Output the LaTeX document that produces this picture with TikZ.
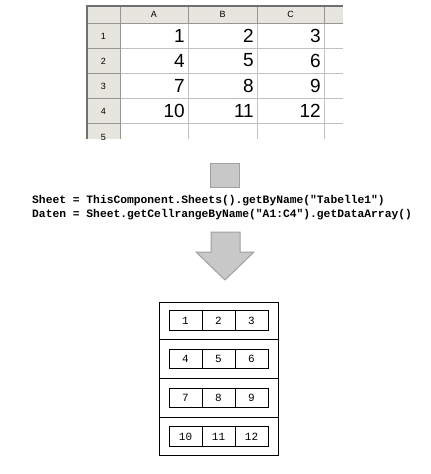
\documentclass[tikz,border=0pt]{standalone}
\usepackage{fontspec}
\setmainfont{Liberation Sans}
\newfontfamily\codefont{Liberation Mono}
\usetikzlibrary{positioning}
\definecolor{SheetHead}{RGB}{230,230,222}
\definecolor{SheetGrid}{RGB}{192,192,192}
\definecolor{SheetLine}{RGB}{150,150,150}
\definecolor{SheetFrame}{RGB}{112,112,112}
\definecolor{ArrowFill}{RGB}{200,200,200}
\definecolor{ArrowLine}{RGB}{160,160,160}

\begin{document}
\begin{tikzpicture}[
    x=1pt,
    y=-1pt,
    value/.style={
        anchor=east,
        inner sep=0,
        font=\fontsize{19}{19}\selectfont
    },
    head/.style={
        inner sep=0,
        font=\fontsize{9}{9}\selectfont
    },
    code/.style={
        anchor=west,
        align=left,
        inner sep=0,
        font=\codefont\bfseries\fontsize{11.3}{13.5}\selectfont
    },
    cell/.style={
        draw,
        line width=1pt,
        outer sep=0,
        minimum width=33pt,
        minimum height=19.5pt,
        inner sep=0,
        font=\codefont\fontsize{11}{11}\selectfont
    },
    block/.style={
        fill=ArrowFill,
        draw=ArrowLine,
        line width=1pt
    }
]
\useasboundingbox (0,0) rectangle (431,474);

% spreadsheet
\begin{scope}
\clip (85,4) rectangle (343,139);
\fill[SheetHead] (87,6) rectangle (343,23);
\fill[SheetHead] (87,23) rectangle (120,139);
\draw[SheetGrid]
(120,48) -- (343,48) (120,73) -- (343,73)
(120,98) -- (343,98) (120,123) -- (343,123)
(188,23) -- (188,139) (257,23) -- (257,139) (324,23) -- (324,139);
\draw[SheetLine]
(87,48) -- (120,48) (87,73) -- (120,73)
(87,98) -- (120,98) (87,123) -- (120,123)
(188,6) -- (188,23) (257,6) -- (257,23) (324,6) -- (324,23)
(87,23) -- (343,23) (120,6) -- (120,139);
\draw[SheetFrame,line width=2pt]
(87,139) -- (87,6) -- (343,6);

\node[head] (colA) at (154,14.5) {A};
\node[head] (colB) at (222.5,14.5) {B};
\node[head] (colC) at (290.5,14.5) {C};
\node[head] (row1) at (103.5,36.5) {1};
\node[head] (row2) at (103.5,61.5) {2};
\node[head] (row3) at (103.5,86.5) {3};
\node[head] (row4) at (103.5,111.5) {4};
\node[head] (row5) at (103.5,137) {5};
\end{scope}

\node[value] (a1) at (185,35.5) {1};
\node[value] (b1) at (254,35.5) {2};
\node[value] (c1) at (321,35.5) {3};
\node[value] (a2) at (185,60.5) {4};
\node[value] (b2) at (254,60.5) {5};
\node[value] (c2) at (321,60.5) {6};
\node[value] (a3) at (185,85.5) {7};
\node[value] (b3) at (254,85.5) {8};
\node[value] (c3) at (321,85.5) {9};
\node[value] (a4) at (185,110.5) {10};
\node[value] (b4) at (254,110.5) {11};
\node[value] (c4) at (321,110.5) {12};

% macro call
\node[block,minimum width=29pt,minimum height=24pt,inner sep=0] (stem)
at (225,175.5) {};

\node[code] (script) at (32,207.5)
{Sheet = ThisComponent.Sheets().getByName("Tabelle1")\\
Daten = Sheet.getCellrangeByName("A1:C4").getDataArray()};

\draw[block]
(211,232) -- (240,232) -- (240,252) -- (254,252)
-- (225,280) -- (196,252) -- (211,252) -- cycle;

% data array
\draw[line width=1pt] (159,302) rectangle (278,455);
\draw[line width=1pt]
(159,339) -- (278,339)
(159,378) -- (278,378)
(159,417) -- (278,417);

\node[cell] (n1) at (185.5,320.5) {1};
\node[cell,right=0pt of n1] (n2) {2};
\node[cell,right=0pt of n2] (n3) {3};

\node[cell] (n4) at (185.5,359) {4};
\node[cell,right=0pt of n4] (n5) {5};
\node[cell,right=0pt of n5] (n6) {6};

\node[cell] (n7) at (185.5,398) {7};
\node[cell,right=0pt of n7] (n8) {8};
\node[cell,right=0pt of n8] (n9) {9};

\node[cell] (n10) at (185.5,436.5) {10};
\node[cell,right=0pt of n10] (n11) {11};
\node[cell,right=0pt of n11] (n12) {12};

\end{tikzpicture}
\end{document}
